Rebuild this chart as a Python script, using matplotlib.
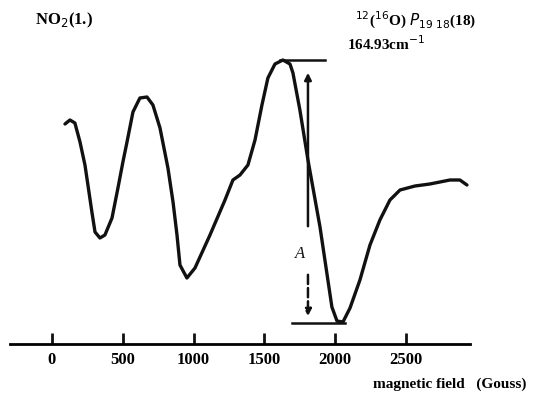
import matplotlib
matplotlib.use("Agg")
import matplotlib.pyplot as plt

# trace (field in Gauss, signal in arbitrary units)
field = [92, 127, 162, 198, 233, 254, 282, 304, 339, 374, 424, 466, 501, 530,
         572, 621, 671, 713, 763, 819, 855, 883, 904, 953, 1010, 1116, 1222,
         1278, 1328, 1384, 1434, 1483, 1525, 1575, 1631, 1681, 1702, 1751, 1808,
         1893, 1977, 2013, 2055, 2105, 2175, 2246, 2316, 2387, 2458, 2564, 2669,
         2811, 2881, 2931]
signal = [22.0, 22.4, 22.1, 20.2, 17.9, 15.9, 13.2, 11.2, 10.6, 10.9, 12.6, 15.6,
          18.2, 20.2, 23.2, 24.6, 24.7, 23.9, 21.6, 17.6, 14.2, 10.9, 7.9, 6.6,
          7.6, 10.9, 14.4, 16.4, 16.9, 17.9, 20.4, 23.9, 26.6, 28.0, 28.4, 28.0,
          27.1, 23.4, 18.4, 11.7, 3.7, 2.3, 2.2, 3.6, 6.4, 9.9, 12.4, 14.4, 15.4,
          15.8, 16.0, 16.4, 16.4, 15.9]
ticks = [0, 500, 1000, 1500, 2000, 2500]

# peak-to-peak amplitude A
peak_y = 28.4
trough_y = 2.2
amp_x = 1808

serif = ["Liberation Serif", "DejaVu Serif"]
black = "#111111"

fig = plt.figure(figsize=(5.44, 4.07), dpi=100)
ax = fig.add_axes([0, 0, 1, 1])
ax.set_xlim(-367, 3475)
ax.set_ylim(-6.3, 34.4)

ax.plot(field, signal, color=black, lw=2.4, solid_capstyle="round",
        solid_joinstyle="round")

# construction lines for A
ax.plot([1610, 1928], [peak_y, peak_y], color=black, lw=1.8)
ax.plot([1695, 2070], [trough_y - 0.1, trough_y - 0.1], color=black, lw=1.8)
ax.annotate("", xy=(amp_x, peak_y - 1.0), xytext=(amp_x, 11.5),
            arrowprops=dict(arrowstyle="-|>", lw=1.8, color=black, mutation_scale=10))
ax.annotate("", xy=(amp_x, trough_y + 0.3), xytext=(amp_x, 7.2),
            arrowprops=dict(arrowstyle="-|>", lw=1.8, color=black, ls="--",
                            mutation_scale=10))
ax.text(amp_x - 60, 9.0, "A", fontsize=12, style="italic", color=black,
        family=serif, ha="center", va="center")

# axis line with upward ticks
for s in ["top", "right", "left"]:
    ax.spines[s].set_visible(False)
ax.spines["bottom"].set_position(("data", 0))
ax.spines["bottom"].set_bounds(-297, 2952)
ax.spines["bottom"].set_linewidth(2)
ax.set_yticks([])
ax.set_xticks(ticks)
ax.tick_params(axis="x", direction="in", length=8, width=2, pad=6, color=black)
ax.set_xticklabels([str(t) for t in ticks], fontsize=12, fontweight="bold", family=serif)

ax.text(2810, -4.0, "magnetic field   (Gouss)", fontsize=11, fontweight="bold",
        family=serif, ha="center", va="center")
ax.text(85, 32.4, "NO$_2$(1.)", fontsize=12, fontweight="bold", family=serif,
        ha="center", va="center")
ax.text(2570, 32.4, "$^{12}$($^{16}$O) $P_{19\ 18}$(18)", fontsize=11, fontweight="bold",
        family=serif, ha="center", va="center")
ax.text(2360, 30.0, "164.93cm$^{-1}$", fontsize=11, fontweight="bold", family=serif,
        ha="center", va="center")

fig.savefig("out.png", dpi=100)
